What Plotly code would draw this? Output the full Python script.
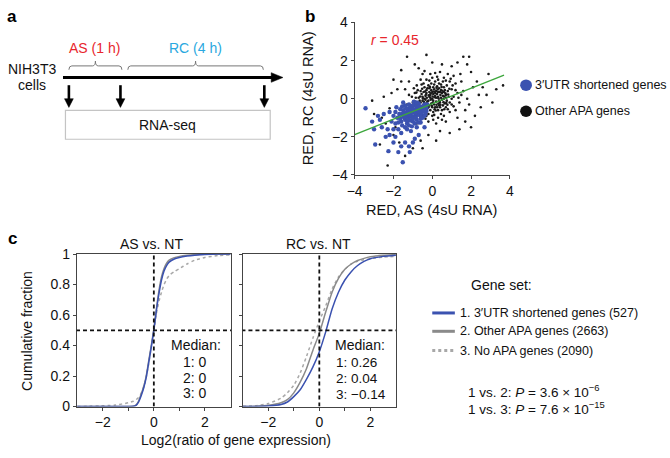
import plotly.graph_objects as go

# ---------------- data ----------------
# panel b: RED values (AS on x, RC on y)
other_pts = [
    (-0.6, -0.2), (-0.5, 0.1), (-0.4, -0.4), (-0.3, 0.3), (-0.2, -0.1), (-0.1, 0.2), (0, 0), (0.1, -0.3),
    (0.2, 0.4), (0.3, 0.1), (0.4, -0.2), (0.5, 0.3), (0.6, 0.0), (-0.55, -0.55), (-0.45, 0.35), (-0.35, -0.05),
    (-0.25, 0.55), (-0.15, -0.35), (-0.05, 0.45), (0.05, -0.1), (0.15, 0.15), (0.25, -0.45), (0.35, 0.55),
    (0.45, 0.05), (0.55, -0.35), (0.65, 0.45), (-0.7, 0.05), (-0.65, -0.4), (0.7, 0.2), (0.75, -0.1), (-0.2, 0.7),
    (0.1, 0.75), (0.3, -0.6), (-0.1, -0.6), (0.0, 0.35), (-0.3, -0.25), (0.2, -0.15), (0.4, 0.35), (-0.5, -0.1),
    (0.6, 0.6), (-0.8, -0.3), (-0.4, 0.6), (0.8, 0.4), (-0.15, 0.1), (0.05, 0.6), (0.35, -0.35), (-0.6, 0.4),
    (0.5, -0.6), (-0.25, -0.5), (0.15, 0.9),
    (-0.45, -0.3), (-0.35, 0.15), (-0.25, -0.15), (-0.15, 0.35), (-0.05, -0.25), (0.05, 0.25), (0.15, -0.45),
    (0.25, 0.25), (0.35, -0.1), (0.45, 0.45), (0.55, 0.15), (0.65, -0.25), (-0.4, 0.0), (-0.3, 0.45),
    (-0.2, -0.45), (-0.1, 0.05), (0.0, -0.45), (0.1, 0.5), (0.2, 0.05), (0.3, 0.35), (0.4, -0.45), (0.5, -0.05),
    (0.6, 0.35), (0.7, -0.45), (-0.55, 0.25), (-0.65, -0.1), (-0.35, -0.6), (0.05, -0.7), (0.25, 0.65),
    (0.45, 0.75), (-0.05, 0.8), (0.75, 0.7), (0.85, 0.1), (0.9, -0.2), (-0.75, 0.45), (-0.85, 0.05), (0.35, 0.8),
    (0.55, 0.9), (-0.45, 0.8), (-0.15, 0.55), (0.15, 0.3), (0.32, -0.25), (-0.08, -0.05), (0.12, -0.55),
    (0.42, 0.2), (0.62, -0.55), (-0.28, 0.05), (0.02, 0.12), (0.22, -0.32), (0.72, 0.05),
    (-0.52, 0.52), (-0.42, -0.18), (-0.32, 0.22), (-0.22, -0.32), (-0.12, 0.62), (-0.02, -0.38), (0.08, 0.38),
    (0.18, -0.62), (0.28, 0.48), (0.38, -0.12), (0.48, 0.62), (0.58, -0.18), (0.68, 0.28), (0.78, -0.32),
    (0.88, 0.52), (-0.58, -0.68), (-0.48, 0.02), (-0.38, 0.38), (-0.28, -0.38), (-0.18, 0.18), (-0.08, 0.28),
    (0.02, -0.22), (0.12, 0.08), (0.22, 0.58), (0.32, 0.02), (0.42, -0.32), (0.52, 0.42), (0.62, 0.12),
    (0.72, -0.22), (0.82, 0.22), (-0.62, 0.12), (-0.72, -0.22), (-0.82, 0.32), (-0.92, -0.12), (-0.5, -0.85),
    (-0.2, -0.8), (0.1, -0.85), (0.45, -0.8), (0.8, -0.55), (1.0, 0.0), (1.05, 0.7), (0.7, 0.95), (0.25, 1.15),
    (-0.15, 0.95), (-0.55, 0.75), (-0.95, 0.55), (-1.05, 0.1), (-1.15, -0.35), (1.2, 0.45), (1.35, 0.05),
    (-0.35, -1.05), (0.05, -1.1), (0.5, -1.1), (1.1, -0.4), (1.5, 0.2), (0.95, 1.05), (0.15, 1.35), (-0.4, 1.45),
    (-0.7, 1.6), (1.45, 1.3),
    (-1.0, -0.2), (-0.9, 0.3), (-1.1, -0.6), (-0.8, 0.7), (-0.6, 1.0), (-0.3, 1.0), (0.0, 1.1), (0.3, 1.0),
    (0.6, 1.1), (0.9, 0.9), (1.0, 0.5), (1.1, 0.1), (1.0, -0.3), (0.9, -0.7), (0.6, -0.9), (0.3, -1.0),
    (0.0, -0.9), (-0.3, -0.9), (-0.6, -0.8), (-0.9, -0.9), (1.2, 0.8), (1.3, 0.3), (1.4, -0.2), (1.2, -0.6),
    (0.8, 1.3), (0.4, 1.4), (-0.1, 1.3), (-0.5, 1.3), (-1.2, 0.2), (-1.3, -0.3), (-1.4, 0.5), (-1.2, 0.9),
    (1.5, 0.9), (1.6, 0.4), (1.1, 1.2), (0.7, -1.2), (0.2, -1.3), (-0.2, -1.2), (1.3, -1.0), (-0.8, -1.3),
    (-3.1, -0.1), (-2.5, 0.1), (-2.0, 1.0), (-1.3, 2.2), (-0.3, 2.3), (1.6, 2.2), (1.9, 2.2), (3.65, 0.7),
    (2.5, -0.45), (2.0, -1.5), (-2.3, -3.5), (-2.6, -1.0), (-2.2, -0.5), (-1.8, 0.5), (-1.6, 1.5), (-0.9, 1.8),
    (0.0, 1.9), (0.5, 1.8), (1.0, 1.7), (1.3, 1.9), (2.0, 1.4), (2.3, 0.9), (2.6, 0.6), (2.8, 0.2), (3.1, -0.2),
    (2.2, -0.9), (1.7, -1.2), (1.4, -1.6), (0.9, -1.8), (0.4, -1.7), (-0.2, -1.9), (-0.6, -2.2), (-1.0, -2.6),
    (-1.7, -2.3), (-2.0, -1.9), (-2.7, -2.4), (-1.4, -3.0), (-0.5, -2.6), (0.2, -2.2), (3.3, 0.5), (2.9, 1.3),
    (1.8, 1.8), (-1.9, -1.5), (-2.4, -1.3), (-3.0, -0.8), (-1.6, 0.9), (-2.1, 0.3), (1.9, -0.3), (2.4, 0.2),
    (2.1, 0.6), (1.8, 0.0), (1.7, -0.6),
]
short_pts = [
    (-1.1, -0.8), (-1.0, -0.6), (-1.2, -1.0), (-0.9, -0.9), (-1.3, -0.7), (-0.8, -0.5), (-1.4, -1.1),
    (-0.7, -0.7), (-1.5, -0.9), (-0.6, -0.4), (-1.0, -1.2), (-1.2, -0.5), (-0.9, -0.3), (-1.6, -1.2),
    (-0.5, -0.6), (-1.7, -0.8), (-0.4, -0.3), (-1.3, -1.3), (-0.8, -1.1), (-1.1, -0.4), (-1.5, -0.6),
    (-0.6, -0.9), (-1.8, -1.0), (-0.3, -0.5), (-1.0, -0.95), (-1.25, -0.85), (-0.95, -0.7), (-0.75, -0.85),
    (-1.35, -0.5), (-1.15, -1.15), (-0.85, -0.35), (-1.45, -0.75), (-0.65, -0.55), (-1.55, -1.4),
    (-1.05, -0.45), (-0.55, -0.75), (-1.65, -0.55), (-0.45, -0.45), (-1.2, -1.4), (-0.9, -1.3), (-1.4, -0.35),
    (-0.7, -0.25), (-1.9, -1.3), (-2.0, -0.9), (-1.75, -1.6), (-1.3, -1.6), (-0.8, -1.5), (-0.5, -1.0),
    (-0.35, -0.8), (-0.25, -0.3), (-2.1, -1.2), (-1.1, -1.7), (-1.6, -1.8), (-0.6, -1.25), (-2.2, -0.7),
    (-1.85, -0.45), (-0.95, -0.15), (-1.5, -0.2),
    (-1.05, -0.7), (-1.15, -0.9), (-0.85, -0.75), (-0.95, -0.55), (-1.25, -0.65), (-1.35, -0.95),
    (-0.75, -0.6), (-0.65, -0.7), (-1.45, -1.0), (-1.0, -1.05), (-0.85, -1.0), (-1.3, -1.15), (-1.1, -0.6),
    (-0.55, -0.5), (-0.45, -0.65), (-1.55, -0.8), (-1.65, -1.05), (-0.7, -0.4), (-1.2, -0.3), (-0.6, -1.05),
    (-1.75, -1.25), (-1.4, -1.5), (-1.05, -1.45), (-0.7, -1.25), (-0.4, -0.9), (-0.3, -0.65), (-1.9, -0.7),
    (-1.55, -0.4), (-1.0, -0.35), (-0.8, -0.2),
    (-3.44, -0.5), (-3.0, -1.6), (-2.94, -2.4), (-2.26, -2.75), (-1.75, -2.8), (-1.16, -2.8), (-1.52, -3.33),
    (-2.6, -1.5), (-2.4, -2.0), (-2.0, -2.3), (-1.4, -2.3), (-0.9, -2.1), (-2.7, -1.1), (-2.5, -0.8),
    (-1.9, -2.0), (-1.2, -2.5), (-0.7, -1.9), (-2.3, -1.6), (-1.6, -2.5), (-3.1, -1.2), (-2.8, -0.9),
    (-2.2, -1.9), (-1.0, -2.3), (-0.4, -1.5), (-2.0, -1.6),
]
other_x = [p[0] for p in other_pts]
other_y = [p[1] for p in other_pts]
short_x = [p[0] for p in short_pts]
short_y = [p[1] for p in short_pts]
fit_x = [-4.0, 3.7]
fit_y = [-1.88, 1.24]
r_value = 0.45

# panel c: cumulative fractions
as_x = [-3, -1.5, -1.0, -0.8, -0.7, -0.6, -0.5, -0.4, -0.3, -0.2, -0.1, 0, 0.1, 0.2, 0.3, 0.4, 0.5, 0.6,
        0.8, 1.0, 1.3, 1.6, 2.0, 2.5, 3]
as_blue = [0, 0, 0.001, 0.002, 0.008, 0.03, 0.07, 0.12, 0.19, 0.29, 0.39, 0.5, 0.63, 0.74, 0.83, 0.89,
           0.925, 0.947, 0.968, 0.978, 0.987, 0.993, 0.998, 1, 1]
as_gray = [0, 0, 0.001, 0.003, 0.01, 0.035, 0.08, 0.13, 0.2, 0.3, 0.4, 0.51, 0.64, 0.76, 0.85, 0.905,
           0.94, 0.96, 0.977, 0.985, 0.992, 0.996, 0.999, 1, 1]
as_dot = [0, 0.01, 0.025, 0.035, 0.045, 0.06, 0.085, 0.13, 0.19, 0.28, 0.39, 0.5, 0.61, 0.69, 0.75, 0.8,
          0.835, 0.86, 0.885, 0.905, 0.935, 0.96, 0.978, 0.99, 0.995]

rc_x = [-3, -2.5, -2, -1.5, -1.25, -1, -0.75, -0.5, -0.25, 0, 0.25, 0.5, 0.75, 1.0, 1.25, 1.5, 1.75, 2.0,
        2.5, 3]
rc_blue = [0, 0.001, 0.004, 0.014, 0.03, 0.065, 0.11, 0.18, 0.26, 0.36, 0.49, 0.64, 0.75, 0.83, 0.885,
           0.925, 0.952, 0.97, 0.985, 0.993]
rc_gray = [0, 0.002, 0.008, 0.025, 0.045, 0.09, 0.16, 0.25, 0.37, 0.48, 0.62, 0.75, 0.84, 0.9, 0.935,
           0.958, 0.972, 0.982, 0.992, 0.997]
rc_dot = [0.002, 0.006, 0.02, 0.055, 0.09, 0.14, 0.22, 0.33, 0.45, 0.56, 0.66, 0.77, 0.85, 0.9, 0.935,
          0.952, 0.963, 0.97, 0.98, 0.985]

gene_sets = ["1. 3\u2032UTR shortened genes (527)", "2. Other APA genes (2663)", "3. No APA genes (2090)"]
medians_as = ["1: 0", "2: 0", "3: 0"]
medians_rc = ["1: 0.26", "2: 0.04", "3: \u22120.14"]
pvals = ["1 vs. 2: <i>P</i> = 3.6 \u00d7 10<sup>\u22126</sup>", "1 vs. 3: <i>P</i> = 7.6 \u00d7 10<sup>\u221215</sup>"]
cdf_ticks = [-2, 0, 2]
cdf_ticktext = ["\u22122", "0", "2"]
cdf_minor = [-1, 1]
b_ticks = [-4, -2, 0, 2, 4]

# ---------------- style ----------------
W, H = 670, 458
FONT = "Liberation Sans, Arial, Helvetica, sans-serif"
BLUE = "#3b52b0"
GRAY = "#8a8a8a"
LGRAY = "#a8a8a8"
RED = "#e8262d"
SKY = "#2aa8e0"
GREEN = "#3ca63c"
AX = "#444444"


def X(p):
    return p / W


def Y(p):
    return 1 - p / H


fig = go.Figure()

# panel b scatter
fig.add_trace(go.Scatter(x=other_x, y=other_y, mode="markers", xaxis="x", yaxis="y",
                         marker=dict(size=2.6, color="#1a1a1a", line=dict(width=0))))
fig.add_trace(go.Scatter(x=short_x, y=short_y, mode="markers", xaxis="x", yaxis="y",
                         marker=dict(size=4.4, color=BLUE, line=dict(width=0))))
fig.add_trace(go.Scatter(x=fit_x, y=fit_y, mode="lines", xaxis="x", yaxis="y",
                         line=dict(color=GREEN, width=1.3)))

# panel c curves
for xs, ys, col, dash, ax, ay in [
    (as_x, as_dot, LGRAY, "dot", "x2", "y2"),
    (as_x, as_gray, GRAY, "solid", "x2", "y2"),
    (as_x, as_blue, BLUE, "solid", "x2", "y2"),
    (rc_x, rc_dot, LGRAY, "dot", "x3", "y3"),
    (rc_x, rc_gray, GRAY, "solid", "x3", "y3"),
    (rc_x, rc_blue, BLUE, "solid", "x3", "y3"),
]:
    fig.add_trace(go.Scatter(x=xs, y=ys, mode="lines", xaxis=ax, yaxis=ay,
                             line=dict(color=col, width=1.5, dash=dash, shape="spline", smoothing=0.6)))

tickfont = dict(family=FONT, size=14, color="#111")
common = dict(showgrid=False, zeroline=False, showline=True, linecolor=AX, linewidth=1,
              ticks="outside", ticklen=3, tickcolor=AX, tickwidth=1, tickfont=tickfont)
minor = dict(tickmode="array", tickvals=cdf_minor, ticks="outside", ticklen=3, tickcolor=AX, tickwidth=1,
             showgrid=False)

fig.update_layout(
    width=W, height=H, margin=dict(l=0, r=0, t=0, b=0),
    paper_bgcolor="white", plot_bgcolor="white", showlegend=False,
    font=dict(family=FONT, color="#111"),
    xaxis=dict(domain=[X(353), X(511)], range=[-4, 4], anchor="y", tickvals=b_ticks, **common),
    yaxis=dict(domain=[Y(173), Y(15)], range=[-4, 4], anchor="x", tickvals=b_ticks, **common),
    xaxis2=dict(domain=[X(70), X(227)], range=[-3.02, 3.02], anchor="y2", mirror=True,
                tickvals=cdf_ticks, ticktext=cdf_ticktext, minor=minor, **common),
    yaxis2=dict(domain=[Y(413), Y(255)], range=[0, 1], anchor="x2", mirror=True,
                tickvals=[0, 0.2, 0.4, 0.6, 0.8, 1], ticktext=["0", "0.2", "0.4", "0.6", "0.8", "1"], **common),
    xaxis3=dict(domain=[X(239), X(395)], range=[-3, 3], anchor="y3", mirror=True,
                tickvals=cdf_ticks, ticktext=cdf_ticktext, minor=minor, **common),
    yaxis3=dict(domain=[Y(413), Y(255)], range=[0, 1], anchor="x3", mirror=True,
                tickvals=[0, 0.2, 0.4, 0.6, 0.8, 1], showticklabels=False, **common),
)

shapes = []
# dashed reference lines in panel c
for ax, ay in [("x2", "y2"), ("x3", "y3")]:
    shapes.append(dict(type="line", xref=ax, yref=ay, x0=0, x1=0, y0=0, y1=1,
                       line=dict(color="#111", width=1.8, dash="4px,3px")))
    shapes.append(dict(type="line", xref=ax, yref=ay, x0=-3.05, x1=3.05, y0=0.5, y1=0.5,
                       line=dict(color="#111", width=1.8, dash="4px,3px")))


def path(pts, close=False):
    s = "M " + " L ".join(f"{X(a):.5f},{Y(b):.5f}" for a, b in pts)
    return s + (" Z" if close else "")


def brace(x0, x1, xm, yb, ye, yt):
    return (f"M {X(x0):.5f},{Y(ye):.5f} Q {X(x0):.5f},{Y(yb):.5f} {X(x0+3):.5f},{Y(yb):.5f} "
            f"L {X(xm-3):.5f},{Y(yb):.5f} Q {X(xm):.5f},{Y(yb):.5f} {X(xm):.5f},{Y(yt):.5f} "
            f"Q {X(xm):.5f},{Y(yb):.5f} {X(xm+3):.5f},{Y(yb):.5f} "
            f"L {X(x1-3):.5f},{Y(yb):.5f} Q {X(x1):.5f},{Y(yb):.5f} {X(x1):.5f},{Y(ye):.5f}")


# panel a schematic
shapes.append(dict(type="path", xref="paper", yref="paper", path=brace(62, 116, 89, 60, 64, 55),
                   line=dict(color="#777", width=1)))
shapes.append(dict(type="path", xref="paper", yref="paper", path=brace(122, 260, 191, 60, 64, 55),
                   line=dict(color="#777", width=1)))
shapes.append(dict(type="line", xref="paper", yref="paper", x0=X(56), x1=X(270), y0=Y(72), y1=Y(72),
                   line=dict(color="#000", width=3)))
shapes.append(dict(type="path", xref="paper", yref="paper", path=path([(268, 67), (280, 72), (268, 77)], True),
                   fillcolor="#000", line=dict(color="#000", width=0.5)))
for ax_ in [62, 114.5, 261]:
    shapes.append(dict(type="line", xref="paper", yref="paper", x0=X(ax_), x1=X(ax_), y0=Y(80), y1=Y(95),
                       line=dict(color="#000", width=2.6)))
    shapes.append(dict(type="path", xref="paper", yref="paper",
                       path=path([(ax_ - 4.5, 94), (ax_ + 4.5, 94), (ax_, 103)], True),
                       fillcolor="#000", line=dict(color="#000", width=0.5)))
shapes.append(dict(type="rect", xref="paper", yref="paper", x0=X(58.5), x1=X(267), y0=Y(136), y1=Y(106),
                   line=dict(color="#c4c4c4", width=1.2)))

# panel b legend dots
for cy, col in [(80, BLUE), (107, "#111")]:
    shapes.append(dict(type="circle", xref="paper", yref="paper", x0=X(521.5), x1=X(533.5),
                       y0=Y(cy + 6), y1=Y(cy - 6), fillcolor=col, line=dict(color=col, width=0)))

# panel c legend lines
for cy, col, dash in [(316, BLUE, "solid"), (335, GRAY, "solid"), (355, LGRAY, "dot")]:
    shapes.append(dict(type="line", xref="paper", yref="paper", x0=X(432), x1=X(455), y0=Y(cy), y1=Y(cy),
                       line=dict(color=col, width=3, dash=dash)))

fig.update_layout(shapes=shapes)

ann = []


def T(text, x, y, size=14, color="#111", xa="center", ya="middle", angle=0):
    ann.append(dict(text=text, x=X(x), y=Y(y), xref="paper", yref="paper", showarrow=False,
                    xanchor=xa, yanchor=ya, textangle=angle, borderpad=0,
                    font=dict(family=FONT, size=size, color=color)))


# panel letters
T("<b>a</b>", 4.5, 9, 17, "#000")
T("<b>b</b>", 307, 9, 17, "#000")
T("<b>c</b>", 4.5, 239, 17, "#000")
# panel a texts
T("AS (1 h)", 88.5, 41, 14, RED)
T("RC (4 h)", 190.5, 41, 14, SKY)
T("NIH3T3", 24, 63, 14)
T("cells", 24, 80, 14)
T("RNA-seq", 162.5, 121, 14)
# panel b texts
T(f"<i>r</i> = {r_value}", 394, 33, 14, RED)
T("RED, RC (4sU RNA)", 305, 94, 14.5, angle=-90)
T("RED, AS (4sU RNA)", 431, 209, 14.5)
T("3\u2032UTR shortened genes", 536, 80, 12.5, xa="left")
T("Other APA genes", 536, 107, 12.5, xa="left")
# panel c texts
T("AS vs. NT", 146, 245, 14)
T("RC vs. NT", 316, 245, 14)
T("Cumulative fraction", 20, 335, 14, angle=-90)
T("Log2(ratio of gene expression)", 232, 448, 14)
T("Median:", 191.5, 349, 14)
for i, s in enumerate(medians_as):
    T(s, 190, [367, 383, 399][i], 14)
T("Median:", 332, 349, 14, xa="left")
for i, s in enumerate(medians_rc):
    T(s, 332.5, [367, 384, 400][i], 13.5, xa="left")
T("Gene set:", 503, 287, 14)
for i, s in enumerate(gene_sets):
    T(s, 459, [316, 335, 355][i], 12.5, xa="left")
for i, s in enumerate(pvals):
    T(s, 467, [397, 414][i], 13.5, xa="left")

fig.update_layout(annotations=ann)
fig.write_html("out.html", config={"displayModeBar": False},
               post_script="document.body.style.margin='0';document.body.style.overflow='hidden';")
